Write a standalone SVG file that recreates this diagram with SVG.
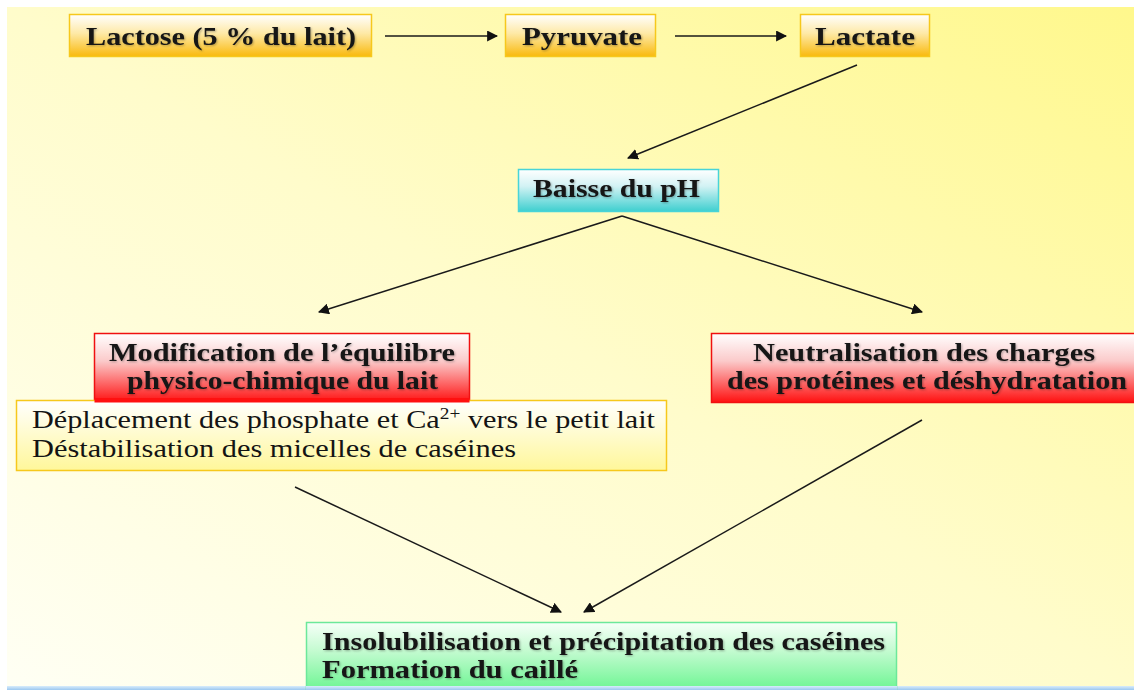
<svg xmlns="http://www.w3.org/2000/svg" width="1134" height="690" viewBox="0 0 1134 690">
<defs>
<linearGradient id="bg" x1="0" y1="1" x2="1" y2="0">
<stop offset="0" stop-color="#FFFFF4"/>
<stop offset="0.5" stop-color="#FFFCCB"/>
<stop offset="1" stop-color="#FFF88C"/>
</linearGradient>
<linearGradient id="gGold" x1="0" y1="0" x2="0" y2="1">
<stop offset="0" stop-color="#FFFFFF"/>
<stop offset="0.45" stop-color="#FEE9A6"/>
<stop offset="1" stop-color="#F9B90C"/>
</linearGradient>
<linearGradient id="gCyan" x1="0" y1="0" x2="0" y2="1">
<stop offset="0" stop-color="#FFFFFF"/>
<stop offset="0.4" stop-color="#D2F2F4"/>
<stop offset="1" stop-color="#3ECFCF"/>
</linearGradient>
<linearGradient id="gRed" x1="0" y1="0" x2="0" y2="1">
<stop offset="0" stop-color="#FFFFFF"/>
<stop offset="0.4" stop-color="#FBCACA"/>
<stop offset="1" stop-color="#FF1010"/>
</linearGradient>
<linearGradient id="gYel" x1="0" y1="0" x2="0" y2="1">
<stop offset="0" stop-color="#FFFFFF"/>
<stop offset="1" stop-color="#FFF79A"/>
</linearGradient>
<linearGradient id="gGreen" x1="0" y1="0" x2="0" y2="1">
<stop offset="0" stop-color="#F6FFF8"/>
<stop offset="0.4" stop-color="#C6FBD2"/>
<stop offset="1" stop-color="#6CF592"/>
</linearGradient>
<linearGradient id="gBlue" x1="0" y1="0" x2="0" y2="1">
<stop offset="0" stop-color="#D8ECFB"/>
<stop offset="1" stop-color="#9CC8F0"/>
</linearGradient>
<marker id="ah" viewBox="0 0 10 10" refX="9" refY="5" markerWidth="11" markerHeight="11" markerUnits="userSpaceOnUse" orient="auto">
<path d="M0,0 L10,5 L0,10 z" fill="#111"/>
</marker>
<filter id="sh" x="-5%" y="-20%" width="110%" height="140%">
<feDropShadow dx="1" dy="1" stdDeviation="0.8" flood-color="#000" flood-opacity="0.3"/>
</filter>
</defs>
<style>
.t{font-weight:bold;font-size:26px;fill:#141414;}
.r{font-size:25px;fill:#141414;}
.ln{stroke:#1a1a1a;stroke-width:1.5;fill:none;marker-end:url(#ah);}
</style>
<rect x="0" y="0" width="1134" height="690" fill="#FFFFFF"/>
<rect x="7" y="7" width="1127" height="679" fill="url(#bg)"/>
<rect x="7" y="686" width="1127" height="4" fill="url(#gBlue)"/>

<g id="connectors">
<line class="ln" x1="385" y1="36" x2="497" y2="36"/>
<line class="ln" x1="675" y1="36" x2="786" y2="36"/>
<line class="ln" x1="857" y1="65" x2="628" y2="158"/>
<line class="ln" x1="622" y1="216" x2="319" y2="312"/>
<line class="ln" x1="622" y1="216" x2="922" y2="312"/>
<line class="ln" x1="295" y1="487" x2="561" y2="612"/>
<line class="ln" x1="922" y1="420" x2="584" y2="612"/>
</g>

<g font-family="Liberation Serif, Times New Roman, serif">
<g id="lactose">
<rect x="69.5" y="14.5" width="302" height="42" fill="url(#gGold)" stroke="#F6C81C" stroke-width="1.5"/>
<text class="t" x="86" y="45" textLength="270" lengthAdjust="spacingAndGlyphs" filter="url(#sh)">Lactose (5 % du lait)</text>
</g>
<g id="pyruvate">
<rect x="505.5" y="14.5" width="150" height="42" fill="url(#gGold)" stroke="#F6C81C" stroke-width="1.5"/>
<text class="t" x="522" y="45" textLength="120" lengthAdjust="spacingAndGlyphs" filter="url(#sh)">Pyruvate</text>
</g>
<g id="lactate">
<rect x="800.5" y="14.5" width="129" height="42" fill="url(#gGold)" stroke="#F6C81C" stroke-width="1.5"/>
<text class="t" x="815" y="45" textLength="100" lengthAdjust="spacingAndGlyphs" filter="url(#sh)">Lactate</text>
</g>
<g id="baisse">
<rect x="518.5" y="169.5" width="200" height="42" fill="url(#gCyan)" stroke="#48D4D8" stroke-width="1.5"/>
<text class="t" x="533" y="197" textLength="167" lengthAdjust="spacingAndGlyphs" filter="url(#sh)">Baisse du pH</text>
</g>
<g id="modification">
<rect x="94.5" y="333.5" width="375" height="69" fill="url(#gRed)" stroke="#F01010" stroke-width="1.5"/>
<text class="t" x="109" y="361" textLength="346" lengthAdjust="spacingAndGlyphs" filter="url(#sh)">Modification de l’équilibre</text>
<text class="t" x="127" y="389" textLength="311" lengthAdjust="spacingAndGlyphs" filter="url(#sh)">physico-chimique du lait</text>
</g>
<g id="neutralisation">
<rect x="711.5" y="333.5" width="430" height="69" fill="url(#gRed)" stroke="#F01010" stroke-width="1.5"/>
<text class="t" x="753" y="361" textLength="342" lengthAdjust="spacingAndGlyphs" filter="url(#sh)">Neutralisation des charges</text>
<text class="t" x="727" y="389" textLength="400" lengthAdjust="spacingAndGlyphs" filter="url(#sh)">des protéines et déshydratation</text>
</g>
<g id="deplacement">
<rect x="16.5" y="400.5" width="650" height="70" fill="url(#gYel)" stroke="#F6C81C" stroke-width="1.5"/>
<rect x="94.5" y="398" width="375" height="4.5" fill="#FF1010"/>
<text class="r" x="32" y="428" textLength="623" lengthAdjust="spacingAndGlyphs">Déplacement des phosphate et Ca<tspan font-size="16" dy="-9">2+</tspan><tspan dy="9"> vers le petit lait</tspan></text>
<text class="r" x="32" y="457" textLength="484" lengthAdjust="spacingAndGlyphs">Déstabilisation des micelles de caséines</text>
</g>
<g id="insolubilisation">
<rect x="306.5" y="622.5" width="590" height="68" fill="url(#gGreen)" stroke="#6CE89A" stroke-width="1.5"/>
<text class="t" x="322" y="650" textLength="563" lengthAdjust="spacingAndGlyphs" filter="url(#sh)">Insolubilisation et précipitation des caséines</text>
<text class="t" x="322" y="678" textLength="256" lengthAdjust="spacingAndGlyphs" filter="url(#sh)">Formation du caillé</text>
</g>
</g>
<rect x="306" y="686" width="591" height="4" fill="url(#gBlue)"/>
</svg>
